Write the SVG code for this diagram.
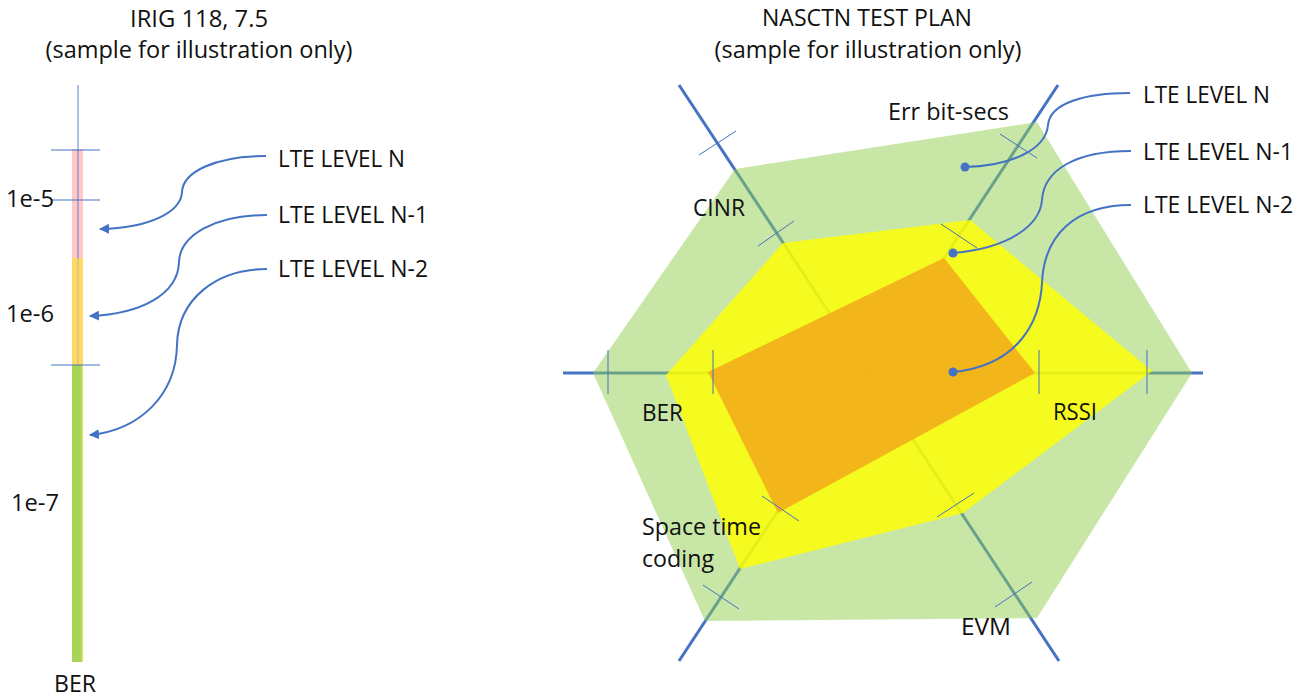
<svg xmlns="http://www.w3.org/2000/svg" width="1311" height="698" viewBox="0 0 1311 698">
  <style>
    text { font-family: "Open Sans", Lato, "Liberation Sans", sans-serif; font-size: 24px; fill: #111; }
    .mid { text-anchor: middle; }
    .axis { stroke: #4472C4; stroke-width: 3; fill: none; }
    .tick { stroke: #4472C4; stroke-width: 1; fill: none; }
    .conn { stroke: #4472C4; stroke-width: 2; fill: none; }
    .dot { fill: #4472C4; }
  </style>
  <defs>
    <marker id="arrow" viewBox="0 0 10 10" refX="9" refY="5" markerWidth="5" markerHeight="5" orient="auto" markerUnits="strokeWidth">
      <path d="M0,0 L10,5 L0,10 z" fill="#4472C4"/>
    </marker>
  </defs>

  <rect width="1311" height="698" fill="#ffffff"/>

  <!-- left: BER scale -->
  <g id="irig-title">
    <text class="mid" x="199" y="27" textLength="138" lengthAdjust="spacingAndGlyphs">IRIG 118, 7.5</text>
    <text class="mid" x="199" y="58" textLength="307" lengthAdjust="spacingAndGlyphs">(sample for illustration only)</text>
  </g>
  <g id="ber-bar">
    <rect x="72" y="149" width="11" height="109" fill="#FFC7C7"/>
    <rect x="72" y="258" width="11" height="107" fill="#FFD966"/>
    <rect x="72" y="365" width="11" height="297" fill="#A9D45A"/>
    <rect x="81.5" y="365" width="1.5" height="297" fill="#D6E36A"/>
    <line x1="78" y1="85" x2="78" y2="258" class="tick" stroke-opacity="0.85"/>
    <line x1="78" y1="258" x2="78" y2="365" class="tick" stroke-opacity="0.3"/>
    <line x1="51" y1="150" x2="100" y2="150" class="tick"/>
    <line x1="51" y1="200" x2="100" y2="200" class="tick"/>
    <line x1="51" y1="365" x2="100" y2="365" class="tick"/>
    <text x="6" y="207" textLength="48" lengthAdjust="spacingAndGlyphs">1e-5</text>
    <text x="6" y="322" textLength="48" lengthAdjust="spacingAndGlyphs">1e-6</text>
    <text x="11" y="511" textLength="48" lengthAdjust="spacingAndGlyphs">1e-7</text>
    <text x="54" y="692" textLength="42" lengthAdjust="spacingAndGlyphs">BER</text>
  </g>
  <g id="left-levels">
    <text x="278" y="167" textLength="127" lengthAdjust="spacingAndGlyphs">LTE LEVEL N</text>
    <text x="278" y="223" textLength="150" lengthAdjust="spacingAndGlyphs">LTE LEVEL N-1</text>
    <text x="278" y="277" textLength="150" lengthAdjust="spacingAndGlyphs">LTE LEVEL N-2</text>
  </g>

  <!-- right: radar chart -->
  <g id="nasctn-title">
    <text class="mid" x="867" y="26" textLength="210" lengthAdjust="spacingAndGlyphs">NASCTN TEST PLAN</text>
    <text class="mid" x="868" y="58" textLength="307" lengthAdjust="spacingAndGlyphs">(sample for illustration only)</text>
  </g>
  <g id="radar-axes">
    <line x1="563" y1="373" x2="1203" y2="373" class="axis"/>
    <line x1="679" y1="85" x2="1059" y2="661" class="axis"/>
    <line x1="1058" y1="85" x2="679" y2="661" class="axis"/>
  </g>
  <g id="level-n">
    <polygon points="735,169 1037,122 1192,373 1037,618 705,621 593,373" fill="#92D050" fill-opacity="0.5"/>
  </g>
  <g id="level-n-1">
    <polygon points="783,243 970,220 1152,371 963,513 740,569 666,375" fill="#FFFF00" fill-opacity="0.82"/>
  </g>
  <g id="level-n-2">
    <polygon points="944,258 1035,373 778,513 708,372" fill="#F2AE1A" fill-opacity="0.9"/>
  </g>
  <g id="radar-ticks">
    <line x1="608" y1="350" x2="608" y2="394" class="tick"/>
    <line x1="713" y1="350" x2="713" y2="394" class="tick"/>
    <line x1="1039" y1="350" x2="1039" y2="394" class="tick"/>
    <line x1="1147" y1="350" x2="1147" y2="394" class="tick"/>
    <line x1="699" y1="155" x2="736" y2="131" class="tick"/>
    <line x1="758" y1="246" x2="794" y2="221" class="tick"/>
    <line x1="1000" y1="134" x2="1037" y2="158" class="tick"/>
    <line x1="941" y1="224" x2="977" y2="248" class="tick"/>
    <line x1="762" y1="496" x2="799" y2="521" class="tick"/>
    <line x1="703" y1="585" x2="739" y2="609" class="tick"/>
    <line x1="937" y1="517" x2="974" y2="493" class="tick"/>
    <line x1="995" y1="607" x2="1032" y2="582" class="tick"/>
  </g>
  <g id="axis-labels">
    <text x="888" y="120" textLength="121" lengthAdjust="spacingAndGlyphs">Err bit-secs</text>
    <text x="693" y="216" textLength="52" lengthAdjust="spacingAndGlyphs">CINR</text>
    <text x="642" y="421" textLength="41" lengthAdjust="spacingAndGlyphs">BER</text>
    <text x="1053" y="420" textLength="44" lengthAdjust="spacingAndGlyphs">RSSI</text>
    <text x="642" y="535" textLength="119" lengthAdjust="spacingAndGlyphs">Space time</text>
    <text x="642" y="567" textLength="72" lengthAdjust="spacingAndGlyphs">coding</text>
    <text x="961" y="635" textLength="50" lengthAdjust="spacingAndGlyphs">EVM</text>
  </g>
  <g id="right-levels">
    <text x="1143" y="103" textLength="127" lengthAdjust="spacingAndGlyphs">LTE LEVEL N</text>
    <text x="1143" y="160" textLength="150" lengthAdjust="spacingAndGlyphs">LTE LEVEL N-1</text>
    <text x="1143" y="213" textLength="150" lengthAdjust="spacingAndGlyphs">LTE LEVEL N-2</text>
  </g>

  <!-- callout connectors -->
  <g id="connectors">
    <path class="conn" marker-end="url(#arrow)" d="M266,156 C215,156 183,172 182,192 C181,212 150,228 100,229"/>
    <path class="conn" marker-end="url(#arrow)" d="M267,215 C215,215 180,235 179,262 C178,295 140,314 90,316"/>
    <path class="conn" marker-end="url(#arrow)" d="M267,269 C215,269 178,300 177,345 C176,395 140,430 90,435"/>
    <path class="conn" d="M965,167 C1010,166 1046,150 1048,125 C1050,103 1085,93 1130,93"/>
    <path class="conn" d="M953,253 C1010,248 1040,225 1042,200 C1044,170 1075,151 1131,151"/>
    <path class="conn" d="M953,372 C1020,365 1040,320 1042,283 C1044,235 1075,205 1131,205"/>
    <circle class="dot" cx="965" cy="167" r="4.5"/>
    <circle class="dot" cx="953" cy="253" r="4.5"/>
    <circle class="dot" cx="953" cy="372" r="4.5"/>
  </g>
</svg>
